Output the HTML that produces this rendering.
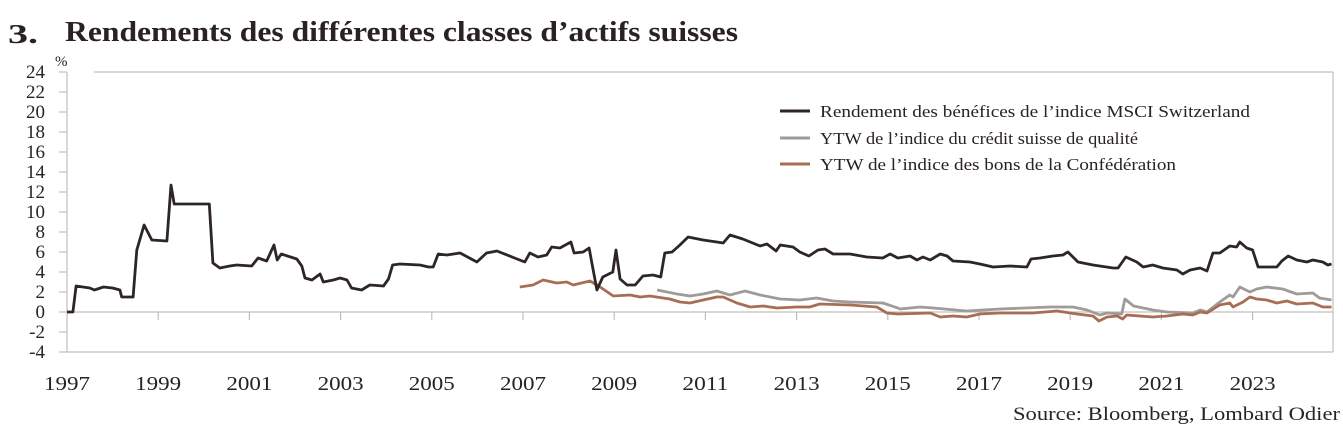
<!DOCTYPE html>
<html><head><meta charset="utf-8"><style>
body{margin:0;background:#fff;width:1343px;height:439px;overflow:hidden;font-family:"Liberation Serif",serif;color:#2a2222}
svg text{font-family:"Liberation Serif",serif;fill:#2a2222}
</style></head><body>
<svg id="chart" width="1343" height="439" xmlns="http://www.w3.org/2000/svg">
<text x="8" y="43" font-size="27" font-weight="bold" textLength="30" lengthAdjust="spacingAndGlyphs">3.</text>
<text x="65" y="41" font-size="28" font-weight="bold" textLength="673" lengthAdjust="spacingAndGlyphs">Rendements des différentes classes d’actifs suisses</text>
<text x="55" y="66" font-size="15">%</text>
<g id="axes"></g>
<g id="series"></g>
<g>
<line x1="780" y1="111" x2="810" y2="111" stroke="#2e2626" stroke-width="3"/>
<text x="820" y="117" font-size="17" textLength="430" lengthAdjust="spacingAndGlyphs">Rendement des bénéfices de l’indice MSCI Switzerland</text>
<line x1="780" y1="138" x2="810" y2="138" stroke="#a09a98" stroke-width="3"/>
<text x="820" y="144" font-size="17" textLength="318" lengthAdjust="spacingAndGlyphs">YTW de l’indice du crédit suisse de qualité</text>
<line x1="780" y1="164" x2="810" y2="164" stroke="#a86e55" stroke-width="3"/>
<text x="820" y="170" font-size="17" textLength="356" lengthAdjust="spacingAndGlyphs">YTW de l’indice des bons de la Confédération</text>
</g>
<text x="1340" y="420" font-size="19" text-anchor="end" textLength="327" lengthAdjust="spacingAndGlyphs">Source: Bloomberg, Lombard Odier</text>
</svg>
<script>
const yTicks=[24,22,20,18,16,14,12,10,8,6,4,2,0,-2,-4];
const yearLabels=[1997,1999,2001,2003,2005,2007,2009,2011,2013,2015,2017,2019,2021,2023];
const msciDates=[1997.0,1997.13,1997.2,1997.5,1997.6,1997.8,1998.0,1998.16,1998.2,1998.45,1998.53,1998.69,1998.86,1999.19,1999.28,1999.35,1999.63,2000.12,2000.2,2000.35,2000.57,2000.72,2001.05,2001.19,2001.38,2001.54,2001.61,2001.7,2002.04,2002.15,2002.22,2002.37,2002.55,2002.62,2002.84,2002.99,2003.14,2003.24,2003.46,2003.64,2003.94,2004.05,2004.14,2004.3,2004.74,2004.93,2005.03,2005.14,2005.33,2005.62,2005.99,2006.2,2006.43,2006.87,2007.04,2007.15,2007.33,2007.52,2007.63,2007.81,2008.05,2008.12,2008.32,2008.45,2008.62,2008.75,2008.97,2009.04,2009.13,2009.28,2009.46,2009.63,2009.85,2010.02,2010.11,2010.27,2010.44,2010.62,2010.95,2011.25,2011.39,2011.54,2011.82,2012.2,2012.35,2012.55,2012.64,2012.92,2013.07,2013.27,2013.47,2013.62,2013.8,2014.17,2014.54,2014.89,2015.05,2015.22,2015.49,2015.64,2015.77,2015.93,2016.15,2016.3,2016.43,2016.8,2017.02,2017.31,2017.68,2018.05,2018.14,2018.34,2018.62,2018.84,2018.95,2019.17,2019.5,2019.94,2020.05,2020.22,2020.46,2020.6,2020.81,2021.03,2021.34,2021.47,2021.63,2021.85,2022.0,2022.13,2022.28,2022.5,2022.65,2022.72,2022.87,2023.0,2023.12,2023.53,2023.64,2023.78,2023.97,2024.19,2024.32,2024.54,2024.65,2024.73];
const msciValues=[0,0,2.6,2.4,2.2,2.5,2.4,2.2,1.5,1.5,6.2,8.7,7.2,7.1,12.7,10.8,10.8,10.8,4.9,4.4,4.6,4.7,4.6,5.4,5.1,6.7,5.2,5.8,5.3,4.6,3.4,3.2,3.8,3.0,3.2,3.4,3.2,2.4,2.2,2.7,2.6,3.3,4.7,4.8,4.7,4.5,4.5,5.8,5.7,5.9,5.0,5.9,6.1,5.3,5.0,5.9,5.5,5.7,6.5,6.4,7.0,5.9,6.0,6.4,2.2,3.5,4.0,6.2,3.3,2.7,2.7,3.6,3.7,3.5,5.9,6.0,6.7,7.5,7.2,7.0,6.9,7.7,7.3,6.6,6.8,6.1,6.7,6.5,6.0,5.6,6.2,6.3,5.8,5.8,5.5,5.4,5.8,5.4,5.6,5.2,5.5,5.2,5.8,5.6,5.1,5.0,4.8,4.5,4.6,4.5,5.3,5.4,5.6,5.7,6.0,5.0,4.7,4.4,4.4,5.5,5.0,4.5,4.7,4.4,4.2,3.8,4.2,4.4,4.1,5.9,5.9,6.6,6.5,7.0,6.4,6.2,4.5,4.5,5.1,5.6,5.2,5.0,5.2,5.0,4.7,4.8];
const creditDates=[2009.94,2010.38,2010.66,2010.95,2011.25,2011.54,2011.87,2012.2,2012.64,2013.07,2013.44,2013.8,2014.17,2014.89,2015.22,2015.27,2015.71,2016.0,2016.73,2017.46,2018.56,2019.06,2019.37,2019.65,2019.81,2020.13,2020.2,2020.39,2020.81,2021.12,2021.69,2021.85,2022.0,2022.28,2022.5,2022.57,2022.72,2022.94,2023.09,2023.31,2023.66,2023.97,2024.32,2024.47,2024.73];
const creditValues=[2.2,1.8,1.6,1.8,2.1,1.7,2.1,1.7,1.3,1.2,1.4,1.1,1.0,0.9,0.4,0.3,0.5,0.4,0.1,0.3,0.5,0.5,0.2,-0.3,-0.1,-0.2,1.3,0.6,0.2,0.0,-0.1,0.2,0.0,1.0,1.7,1.5,2.5,2.0,2.3,2.5,2.3,1.8,1.9,1.4,1.2];
const confDates=[2006.93,2007.22,2007.44,2007.74,2007.96,2008.1,2008.47,2008.69,2008.98,2009.35,2009.57,2009.78,2010.22,2010.44,2010.66,2010.95,2011.25,2011.39,2011.69,2011.98,2012.27,2012.57,2013.0,2013.29,2013.51,2014.17,2014.76,2014.98,2015.22,2015.93,2016.15,2016.43,2016.73,2017.02,2017.46,2018.18,2018.71,2019.15,2019.5,2019.63,2019.81,2020.03,2020.15,2020.24,2020.81,2021.12,2021.47,2021.69,2021.85,2022.0,2022.28,2022.5,2022.57,2022.79,2022.94,2023.09,2023.31,2023.53,2023.75,2023.97,2024.32,2024.54,2024.73];
const confValues=[2.5,2.7,3.2,2.9,3.0,2.7,3.1,2.5,1.6,1.7,1.5,1.6,1.3,1.0,0.9,1.2,1.5,1.5,0.9,0.5,0.6,0.4,0.5,0.5,0.8,0.7,0.5,-0.1,-0.2,-0.1,-0.5,-0.4,-0.5,-0.2,-0.1,-0.1,0.1,-0.2,-0.4,-0.9,-0.5,-0.4,-0.7,-0.3,-0.5,-0.4,-0.2,-0.3,0.0,-0.1,0.7,0.9,0.5,1.0,1.5,1.3,1.2,0.9,1.1,0.8,0.9,0.5,0.5];

const NS='http://www.w3.org/2000/svg';
const X0=67,X1=1333,Y0=72,Y1=352;
function xs(d){return 67+(d-1997)*45.6;}
function ys(v){return 312-v*10;}
function mk(tag,attrs,parent){const e=document.createElementNS(NS,tag);for(const k in attrs)e.setAttribute(k,attrs[k]);parent.appendChild(e);return e;}
const axes=document.getElementById('axes');
const g=mk('g',{stroke:'#c4bfbd','stroke-width':1.2,fill:'none'},axes);
let l=mk('line',{x1:94,y1:Y0,x2:X1,y2:Y0},g);

l=mk('line',{x1:X0,y1:Y0,x2:X0,y2:Y1},g);

l=mk('line',{x1:X1,y1:Y0,x2:X1,y2:Y1},g);

l=mk('line',{x1:X0,y1:Y1,x2:X1,y2:Y1},g);

l=mk('line',{x1:X0,y1:ys(0),x2:X1,y2:ys(0)},g);

yTicks.forEach(v=>{
  const t=mk('line',{x1:X0-8,y1:ys(v),x2:X0,y2:ys(v)},g);
  
  const tx=mk('text',{x:45,y:ys(v)+6,'font-size':19,'text-anchor':'end'},axes);
  
  tx.textContent=v;
});
yearLabels.forEach(yv=>{
  if(yv>1997){const t=mk('line',{x1:xs(yv),y1:ys(0),x2:xs(yv),y2:ys(0)+8},g);
  }
  const tx=mk('text',{x:xs(yv),y:390,'font-size':20,'text-anchor':'middle',textLength:46,lengthAdjust:'spacingAndGlyphs'},axes);
  
  tx.textContent=yv;
});
const series=document.getElementById('series');
function line(d,v,color,name){
  const p=d.map((dd,i)=>xs(dd).toFixed(1)+','+ys(v[i]).toFixed(1)).join(' ');
  const e=mk('polyline',{points:p,fill:'none',stroke:color,'stroke-width':2.8,'stroke-linejoin':'round'},series);
  
  
}
line(creditDates,creditValues,'#a09a98','credit-line');
line(confDates,confValues,'#a86e55','confederation-line');
line(msciDates,msciValues,'#2e2626','msci-line');
</script>
</body></html>
